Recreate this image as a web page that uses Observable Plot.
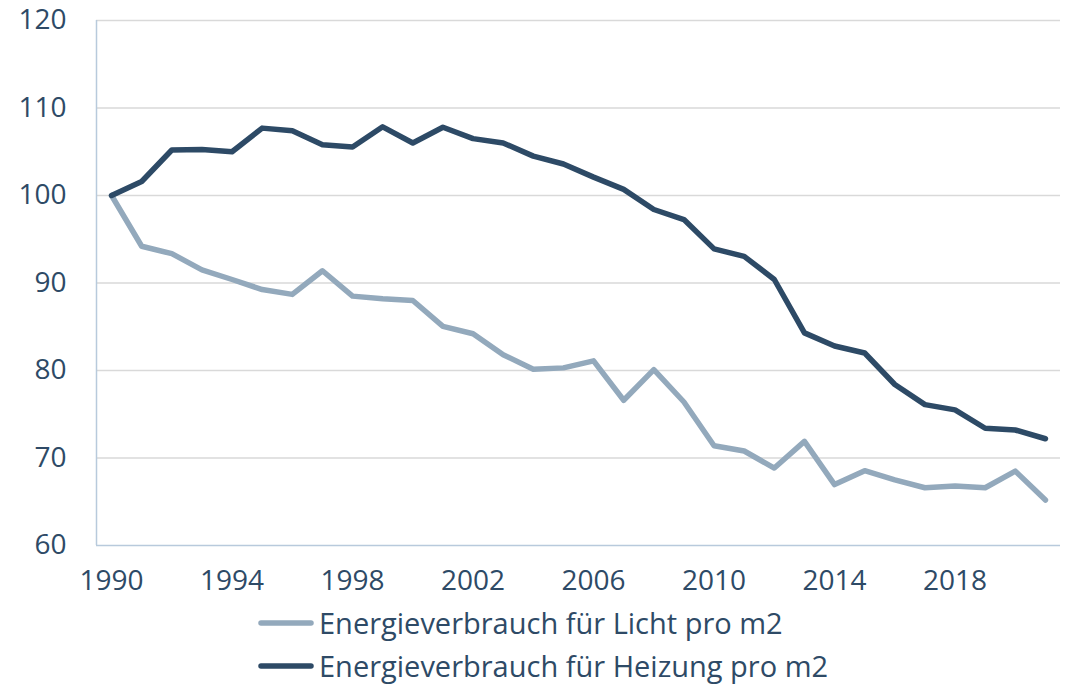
<!DOCTYPE html>
<html>
<head>
<meta charset="utf-8">
<script src="https://cdn.jsdelivr.net/npm/d3@7"></script>
<script src="https://cdn.jsdelivr.net/npm/@observablehq/plot@0.6"></script>
<style>
  html, body { margin: 0; padding: 0; background: #fff; }
  body { width: 1069px; height: 686px; overflow: hidden; font-family: "Open Sans", sans-serif; }
  #legend { position: relative; margin-left: 258px; color: #2e4a66; font-size: 29px; }
  .item { display: flex; align-items: center; height: 43px; line-height: 1; white-space: nowrap; }
  .item svg { margin-right: 5px; }
</style>
</head>
<body>
<div id="chart"></div>
<div id="legend"></div>
<script>
const years = [1990,1991,1992,1993,1994,1995,1996,1997,1998,1999,2000,2001,2002,2003,2004,2005,2006,2007,2008,2009,2010,2011,2012,2013,2014,2015,2016,2017,2018,2019,2020,2021];
const licht = [100,94.2,93.35,91.5,90.4,89.25,88.7,91.4,88.5,88.2,88.0,85.05,84.2,81.8,80.15,80.3,81.1,76.6,80.1,76.4,71.4,70.8,68.85,71.9,66.96,68.55,67.5,66.6,66.8,66.6,68.5,65.2];
const heizung = [100,101.6,105.2,105.25,105.0,107.7,107.4,105.8,105.55,107.85,106.0,107.8,106.5,106.0,104.5,103.6,102.1,100.7,98.4,97.25,93.9,93.05,90.4,84.3,82.8,82.0,78.4,76.1,75.5,73.4,73.2,72.2];
const seriesNames = ["Energieverbrauch für Licht pro m2", "Energieverbrauch für Heizung pro m2"];
const seriesColors = ["#93a9bc", "#2d4a66"];
const xTicks = [1990,1994,1998,2002,2006,2010,2014,2018];
const yTicks = [60,70,80,90,100,110,120];

const rows = [];
years.forEach((y, i) => {
  rows.push({year: y, value: licht[i], series: seriesNames[0]});
});
years.forEach((y, i) => {
  rows.push({year: y, value: heizung[i], series: seriesNames[1]});
});

const textColor = "#2e4a66";
const chart = Plot.plot({
  width: 1069,
  height: 601,
  marginLeft: 96,
  marginRight: 9,
  marginTop: 20,
  marginBottom: 56,
  style: {fontFamily: "'Open Sans', sans-serif", fontSize: "28px", color: textColor, background: "#fff"},
  x: {domain: [1989.5, 2021.5], ticks: xTicks, tickFormat: d => String(d)},
  y: {domain: [60, 120], ticks: yTicks},
  color: {domain: seriesNames, range: seriesColors},
  marks: [
    Plot.ruleY(yTicks.filter(t => t > 60), {stroke: "#d9d9d9", strokeWidth: 1.5}),
    Plot.ruleY([60], {stroke: "#b8cadc", strokeWidth: 1.5}),
    Plot.ruleX([1989.5], {stroke: "#b8cadc", strokeWidth: 1.5}),
    Plot.axisX({ticks: xTicks, tickSize: 0, tickPadding: 25, tickFormat: d => String(d), label: null, fill: textColor}),
    Plot.axisY({ticks: yTicks, tickSize: 0, tickPadding: 30, label: null, fill: textColor}),
    Plot.line(rows, {x: "year", y: "value", z: "series", stroke: "series", strokeWidth: 5.5, strokeLinecap: "round", strokeLinejoin: "round"})
  ]
});
document.getElementById("chart").appendChild(chart);

const legend = document.getElementById("legend");
seriesNames.forEach((name, i) => {
  const item = document.createElement("div");
  item.className = "item";
  item.innerHTML = `<svg width="56" height="10"><line x1="3" y1="5" x2="53" y2="5" stroke="${seriesColors[i]}" stroke-width="5.5" stroke-linecap="round"/></svg><span>${name}</span>`;
  legend.appendChild(item);
});
</script>
</body>
</html>
